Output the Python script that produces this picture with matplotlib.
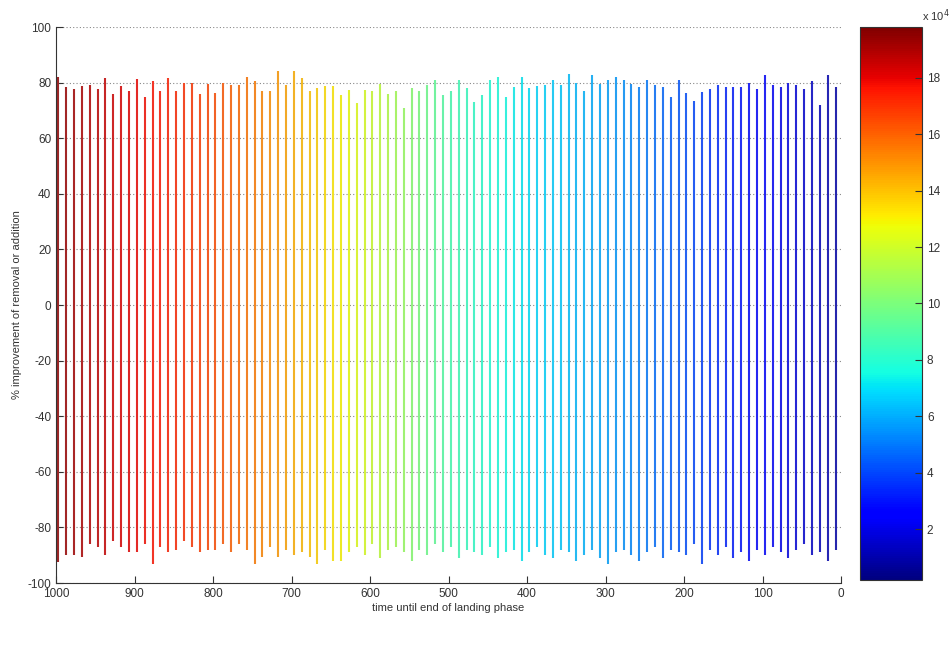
import numpy as np
import matplotlib
matplotlib.use("Agg")
import matplotlib.pyplot as plt
from matplotlib import cm, colors

plt.rcParams['font.family'] = ['Liberation Sans', 'DejaVu Sans']
plt.rcParams['axes.unicode_minus'] = False

# time positions of the stems (time until end of landing phase)
times = np.arange(997, 0, -10)  # 100 stems

# positive (top) end of each stem, % improvement
tops = [82, 78.3, 77.7, 78.6, 79.3, 77.7, 81.7, 76, 78.6, 77,
        81.3, 75, 80.7, 77, 81.7, 77, 80, 80, 76, 79.5,
        76.4, 80, 79, 79, 82, 80.4, 77, 77, 84, 79,
        84, 81.5, 77, 78, 78.6, 78.6, 75.6, 77.4, 72.6, 77.4,
        77, 79.6, 76, 77, 71, 78, 77, 79, 81, 75.5,
        77, 81, 78, 73, 75.5, 81, 82, 75, 78.5, 82,
        78, 78.6, 79, 81, 79, 83, 80, 77, 82.6, 79.6,
        81, 82, 81, 79.6, 78.5, 81, 79, 78.5, 75, 81,
        76.4, 73.4, 76.8, 77.6, 79, 78.4, 78.4, 78.4, 80, 77.6,
        82.8, 79, 78.4, 80, 79, 77.6, 80.6, 72, 82.8, 78.4]

# negative (bottom) end of each stem, % improvement
bottoms = [-92.4, -90, -90, -90.6, -85.8, -87, -90, -85, -87, -89,
           -89, -86, -93, -87, -89, -88, -85, -87, -89, -88,
           -88, -86, -89, -86, -88, -93, -90.5, -87, -90.5, -88,
           -90, -89, -90.5, -93, -88, -92, -92, -89, -87, -90,
           -86, -91, -88, -87, -89, -92, -88, -90, -86, -89,
           -87, -91, -88, -89, -90, -87, -91, -89, -88, -92,
           -89, -87, -90, -91, -88, -89, -92, -90, -88, -91,
           -93, -89, -88, -90, -92, -89, -87, -91, -88, -89,
           -90, -86, -93, -88, -90, -87, -91, -89, -92, -88,
           -90, -87, -89, -91, -88, -86, -90, -89, -92, -88]

yticks = list(range(-100, 101, 20))
xticks = list(range(0, 1001, 100))
cbar_ticks = [2, 4, 6, 8, 10, 12, 14, 16, 18]
cbar_min, cbar_max = 0.2, 19.8  # in units of 1e4

# colour scale: time -> colour value (x 1e4) as seen on the colorbar
scale_time = [0, 100, 200, 300, 400, 500, 600, 700, 800, 900, 1000]
scale_value = [0.8, 2.5, 4.2, 5.8, 7.0, 8.8, 12.0, 14.5, 16.5, 18.0, 19.5]

fig = plt.figure(figsize=(9.53, 6.46), dpi=100)
ax = fig.add_axes([0.0588, 0.0975, 0.8237, 0.8607])

cmap = plt.get_cmap('jet')
cnorm = colors.Normalize(vmin=cbar_min, vmax=cbar_max)
cvals = np.interp(times, scale_time, scale_value)
rgba = cmap(cnorm(cvals))
# slightly washed out like the reference rendering
rgba[:, :3] = rgba[:, :3] * 0.8 + 0.15
ax.vlines(times, bottoms, tops, colors=np.clip(rgba, 0, 1), linewidth=1.5)

ax.set_xlim(1000, 0)
ax.set_ylim(-100, 100)
ax.set_xticks(xticks)
ax.set_yticks(yticks)
for y in yticks:
    ax.axhline(y, color='#888888', linestyle=(0, (1, 2)), linewidth=0.8, zorder=0)
ax.spines['top'].set_visible(False)
ax.spines['right'].set_visible(False)
for s in ['left', 'bottom']:
    ax.spines[s].set_color('#333333')
ax.tick_params(direction='in', length=5, labelsize=8.5, colors='#333333')
ax.set_xlabel('time until end of landing phase', fontsize=8, color='#333333', labelpad=2)
ax.set_ylabel('% improvement of removal or addition', fontsize=8, color='#333333', labelpad=4)

cax = fig.add_axes([0.9024, 0.1022, 0.0651, 0.856])
sm = cm.ScalarMappable(norm=cnorm, cmap=cmap)
cb = fig.colorbar(sm, cax=cax)
cb.set_ticks(cbar_ticks)
cb.ax.tick_params(direction='in', length=5, labelsize=8.5, colors='#333333')
cb.outline.set_edgecolor('#333333')
cax.text(1.0, 1.005, r'x 10$^4$', transform=cax.transAxes, fontsize=8,
         color='#333333', ha='left', va='bottom')

fig.savefig('out.png', dpi=100)
